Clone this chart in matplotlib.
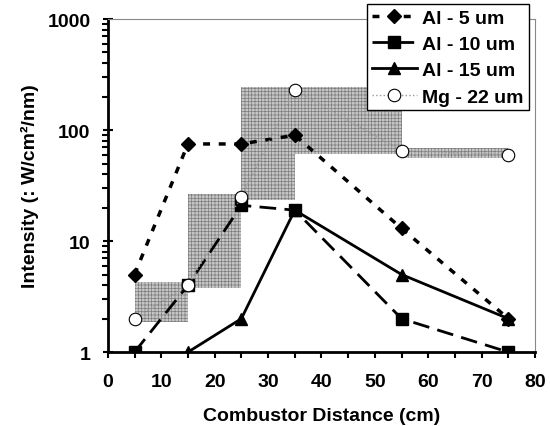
import numpy as np
import matplotlib.pyplot as plt

plt.rcParams['font.family'] = ['Liberation Sans', 'DejaVu Sans']
plt.rcParams['font.weight'] = 'bold'
plt.rcParams['hatch.linewidth'] = 0.5

dist = [5, 15, 25, 35, 55, 75]
al5 = [5, 75, 75, 90, 13, 2]
al10 = [1, 4, 21, 19, 2, 1]
dist15 = [15, 25, 35, 55, 75]
al15 = [1, 2, 19, 5, 2]
mg22 = [2, 4, 25, 230, 65, 60]

fig = plt.figure(figsize=(5.5, 4.27), dpi=100)
ax = fig.add_axes([0.196, 0.173, 0.777, 0.78])

# hatched step bands for Mg
for i in range(len(dist) - 1):
    lo = min(mg22[i], mg22[i + 1]) * 0.94
    hi = max(mg22[i], mg22[i + 1]) * 1.06
    ax.fill_between([dist[i], dist[i + 1]], lo, hi, facecolor='#c6c6c6',
                    edgecolor='#7c7c7c', hatch='+++++', linewidth=0, zorder=1)

ax.plot(dist, al5, color='k', linestyle=(0, (2, 2.5)), linewidth=2.5,
        marker='D', markersize=7, label='Al - 5 um', zorder=3)
ax.plot(dist, al10, color='k', linestyle=(0, (6, 3)), linewidth=2,
        marker='s', markersize=8, label='Al - 10 um', zorder=3)
ax.plot(dist15, al15, color='k', linestyle='-', linewidth=2,
        marker='^', markersize=8, label='Al - 15 um', zorder=3)
ax.plot(dist, mg22, color='#999999', linestyle=':', linewidth=1,
        marker='o', markersize=9, markerfacecolor='white',
        markeredgecolor='k', markeredgewidth=0.8, label='Mg - 22 um', zorder=4)

ax.set_yscale('log')
ax.set_ylim(1, 1000)
ax.set_xlim(0, 80)
ax.set_xticks(np.arange(0, 81, 10))
ax.set_xticks(np.arange(5, 80, 10), minor=True)
ax.set_yticks([1, 10, 100, 1000])
ax.set_yticklabels(['1', '10', '100', '1000'])

ax.tick_params(axis='both', labelsize=14, width=1.5)
ax.tick_params(axis='y', which='major', direction='inout', length=7, pad=9)
ax.tick_params(axis='y', which='minor', direction='out', length=4, width=1.5)
ax.tick_params(axis='x', which='both', direction='out', length=4, width=1.5)
ax.tick_params(axis='x', which='major', pad=11)
for t in ax.get_xticklabels() + ax.get_yticklabels():
    t.set_fontweight('bold')

for s in ['left', 'bottom']:
    ax.spines[s].set_linewidth(2)
    ax.spines[s].set_color('k')
for s in ['top', 'right']:
    ax.spines[s].set_linewidth(0.8)
    ax.spines[s].set_color('#888888')

ax.set_xlabel('Combustor Distance (cm)', fontsize=14, fontweight='bold', labelpad=12)
ax.set_ylabel('Intensity (: W/cm²/nm)', fontsize=14, fontweight='bold', labelpad=6)

leg = ax.legend(loc='upper right', bbox_to_anchor=(0.985, 1.045), fontsize=14,
                frameon=True, fancybox=False, edgecolor='k', framealpha=1,
                handlelength=2.3, handletextpad=0.3, borderpad=0.25,
                labelspacing=0.45, borderaxespad=0)
leg.get_frame().set_linewidth(1)
leg.set_zorder(10)

fig.savefig('out.png', dpi=100)
